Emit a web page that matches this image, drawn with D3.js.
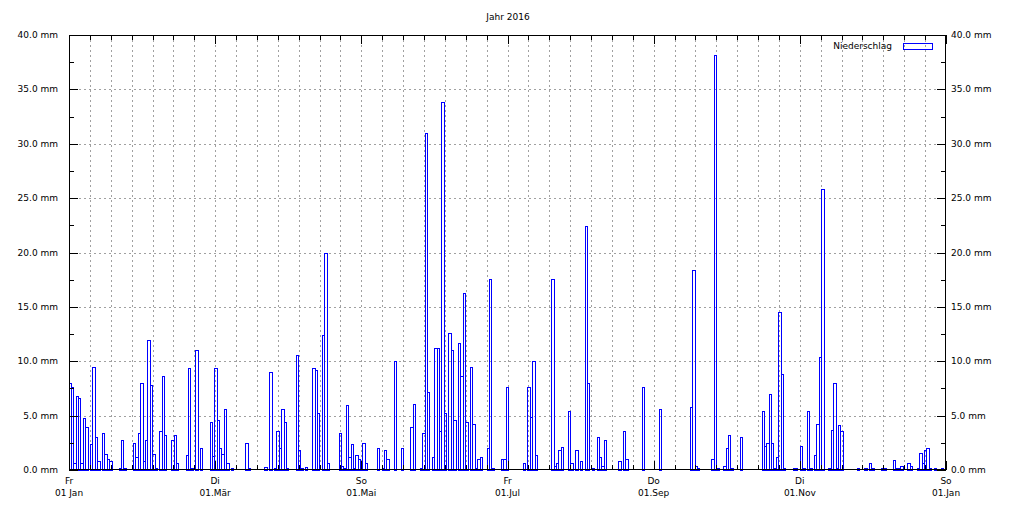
<!DOCTYPE html>
<html><head><meta charset="utf-8">
<script src="https://cdn.jsdelivr.net/npm/d3@7"></script>
<style>
body{margin:0;background:#fff;}
svg{display:block;font-family:"DejaVu Sans",sans-serif;font-size:9px;}
</style></head>
<body><svg id="c" width="1015" height="507"></svg>
<script>
// ---- data (day of year 0 = 01.01.2016, precipitation in mm) ----
const rainDay = [0,1,2,3,4,5,6,7,9,10,11,12,14,15,16,17,21,22,23,27,28,29,30,31,32,33,34,35,36,38,39,40,43,44,45,49,50,51,53,55,59,60,61,62,63,64,65,66,68,74,75,82,84,86,87,88,89,90,91,95,96,97,99,102,103,104,106,107,108,113,114,115,116,117,118,119,120,121,122,123,124,129,131,132,133,136,139,143,144,147,148,149,150,152,153,154,155,156,157,159,160,161,163,164,165,166,168,169,170,171,172,175,176,177,181,182,183,190,192,193,194,195,202,203,204,205,206,209,210,212,214,216,217,219,221,222,223,224,230,232,233,240,247,260,261,262,263,269,270,271,274,275,276,277,281,290,291,292,293,294,295,296,297,298,299,303,304,306,307,309,310,312,313,314,315,318,319,320,321,322,323,330,333,335,336,340,341,345,346,347,348,351,352,355,356,357,358,359,360,362,365];
const rainMm = [8.0,7.6,0.6,6.8,6.6,0.6,4.75,4.0,2.4,9.5,3.0,0.8,3.4,1.5,1.0,0.8,0.2,2.75,0.2,2.5,1.2,3.4,8.0,0.8,2.75,12.0,7.8,1.5,0.2,3.6,8.6,3.2,2.75,3.2,0.6,1.35,9.4,0.2,11.0,2.0,4.4,1.3,9.4,4.6,2.0,1.5,5.6,0.6,0.2,2.5,0.2,0.3,9.0,0.2,3.6,2.0,5.6,4.4,0.2,10.6,1.85,0.2,0.3,9.35,9.2,5.2,12.4,20.0,0.6,3.4,0.35,0.2,6.0,1.2,2.4,0.2,1.35,1.0,0.8,2.5,0.6,2.0,0.2,1.85,1.0,10.0,2.0,4.0,6.1,0.2,3.4,31.0,7.15,1.2,11.2,11.2,3.55,33.8,5.2,12.6,11.0,4.6,11.7,8.6,16.3,4.4,9.5,4.2,0.2,1.0,1.2,2.0,17.55,0.2,1.0,1.0,7.6,0.6,7.6,4.9,10.0,1.35,17.55,0.35,0.6,1.8,2.15,5.4,0.6,1.8,0.8,22.4,8.0,0.2,3.0,1.2,0.35,2.75,0.8,3.55,1.0,7.6,5.6,5.8,18.4,0.35,0.2,1.0,38.15,0.2,0.35,2.0,3.2,0.2,3.0,5.4,2.2,2.5,6.95,2.5,0.2,1.2,14.55,8.8,0.2,0.2,0.2,2.2,0.2,5.4,0.2,1.35,4.2,10.35,25.8,0.2,3.7,8.0,0.2,4.1,3.6,0.2,0.2,0.65,0.2,0.2,0.2,0.9,0.2,0.2,0.35,0.6,0.35,0.2,1.55,0.6,1.8,2.0,0.2,0.2,0.2];
const xTickDay = ["Fr","Di","So","Fr","Do","Di","So"];
const xTickDate = ["01 Jan","01.Mär","01.Mai","01.Jul","01.Sep","01.Nov","01.Jan"];
const yTicks = [0,5,10,15,20,25,30,35,40];
const titleText = "Jahr 2016";
const seriesName = "Niederschlag";

// ---- layout ----
const L=69, R=946, T=35, B=470;
const svg = d3.select("#c");
const x = d3.scaleLinear().domain([-0.3, 366.7]).range([L, R]);
const y = d3.scaleLinear().domain([0, 40]).range([B, T]);
const dom = x.domain();
const nMajor = xTickDay.length - 1, nMinor = 7;
const majorX = d3.range(nMajor + 1).map(i => dom[0] + i * (dom[1] - dom[0]) / nMajor);
const minorX = d3.range(nMajor * nMinor + 1).map(i => dom[0] + i * (dom[1] - dom[0]) / (nMajor * nMinor));
const minorY = d3.range(0, 40.01, 2.5);
const px = v => Math.round(v) + 0.5;

// grid
const grid = svg.append("g").attr("stroke", "#a0a0a0").attr("stroke-dasharray", "2,3").attr("stroke-width", 1);
minorX.slice(1, -1).forEach(d => grid.append("line").attr("x1", px(x(d))).attr("x2", px(x(d))).attr("y1", T).attr("y2", B));
yTicks.slice(1, -1).forEach(v => grid.append("line").attr("x1", L).attr("x2", R).attr("y1", px(y(v))).attr("y2", px(y(v))));

// bars
const data = rainDay.map((d, i) => ({d, v: rainMm[i]}));
svg.append("g").selectAll("rect").data(data).join("rect")
  .attr("x", p => px(Math.max(L, x(p.d - 0.5))))
  .attr("width", p => Math.round(Math.min(R, x(p.d + 0.5))) - Math.round(Math.max(L, x(p.d - 0.5))))
  .attr("y", p => px(y(p.v)))
  .attr("height", p => Math.max(0, Math.round(y(0)) - Math.round(y(p.v))))
  .attr("fill", "none").attr("stroke", "#0000ff").attr("stroke-width", 1)
  .attr("shape-rendering", "crispEdges");

// frame + ticks
const ax = svg.append("g").attr("stroke", "#000").attr("stroke-width", 1).attr("shape-rendering", "crispEdges");
ax.append("rect").attr("x", L + 0.5).attr("y", T + 0.5).attr("width", R - L - 1).attr("height", B - T - 1).attr("fill", "none");
minorX.forEach((d, i) => {
  const len = (i % nMinor === 0) ? 9 : 5;
  const xx = px(x(d));
  ax.append("line").attr("x1", xx).attr("x2", xx).attr("y1", B).attr("y2", B - len);
  ax.append("line").attr("x1", xx).attr("x2", xx).attr("y1", T).attr("y2", T + len);
});
minorY.forEach((v, i) => {
  const len = (i % 2 === 0) ? 9 : 5;
  const yy = px(y(v));
  ax.append("line").attr("x1", L).attr("x2", L + len).attr("y1", yy).attr("y2", yy);
  ax.append("line").attr("x1", R).attr("x2", R - len).attr("y1", yy).attr("y2", yy);
});

// y labels
yTicks.forEach(v => {
  svg.append("text").attr("x", 58).attr("y", y(v) + 3).attr("text-anchor", "end").text(v.toFixed(1) + " mm");
  svg.append("text").attr("x", 951).attr("y", y(v) + 3).attr("text-anchor", "start").text(v.toFixed(1) + " mm");
});
// x labels
majorX.forEach((d, i) => {
  svg.append("text").attr("x", x(d)).attr("y", 484).attr("text-anchor", "middle").text(xTickDay[i]);
  svg.append("text").attr("x", x(d)).attr("y", 496).attr("text-anchor", "middle").text(xTickDate[i]);
});
// title
svg.append("text").attr("x", (L + R) / 2 + 0.5).attr("y", 20).attr("text-anchor", "middle").text(titleText);
// legend
svg.append("text").attr("x", 892).attr("y", 49).attr("text-anchor", "end").text(seriesName);
svg.append("rect").attr("x", 903.5).attr("y", 43.5).attr("width", 29).attr("height", 6)
  .attr("fill", "none").attr("stroke", "#0000ff").attr("shape-rendering", "crispEdges");
</script></body></html>
